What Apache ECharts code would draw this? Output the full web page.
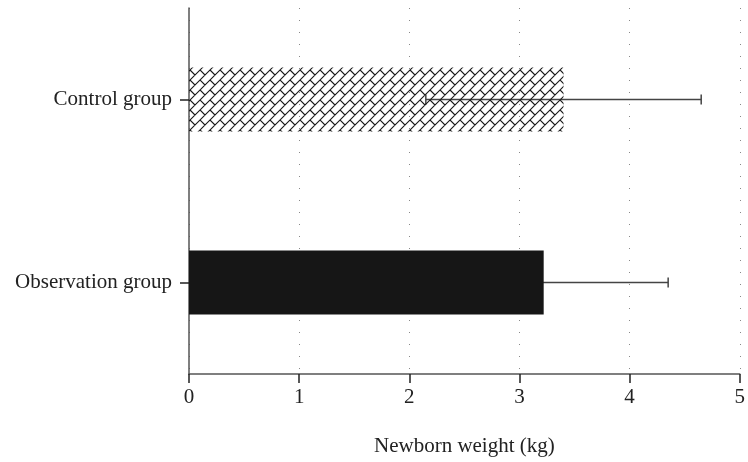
<!DOCTYPE html>
<html>
<head>
<meta charset="utf-8">
<script src="https://cdn.jsdelivr.net/npm/echarts@6/dist/echarts.min.js"></script>
<style>
  html, body { margin: 0; padding: 0; background: #fff; }
  #chart { width: 748px; height: 462px; }
</style>
</head>
<body>
<div id="chart"></div>
<script>
const groups = ["Observation group", "Control group"];
const means = [3.22, 3.4];
const sds = [1.13, 1.25];
const xTicks = [0, 1, 2, 3, 4, 5];

// diagonal brick hatch, transparent so the error line shows through
function makeHatch() {
  const s = 20, h = 10;
  const c = document.createElement("canvas");
  c.width = s;
  c.height = s;
  const ctx = c.getContext("2d");
  ctx.strokeStyle = "#1a1a1a";
  ctx.lineWidth = 1.1;
  ctx.beginPath();
  for (let k = -4; k <= 8; k++) {
    const b = k * h;
    ctx.moveTo(b + 40, -40);
    ctx.lineTo(b - 40, 40);
    const off = (k % 2 === 0) ? 0 : 5;
    for (let m = -6; m <= 6; m++) {
      const t = off + m * 10;
      const x = b / 2 + t, y = b / 2 - t;
      ctx.moveTo(x, y);
      ctx.lineTo(x + h / 2, y + h / 2);
    }
  }
  ctx.stroke();
  return c;
}

const chart = echarts.init(document.getElementById("chart"));
const font = "'Liberation Serif', 'DejaVu Serif', serif";

const option = {
  animation: false,
  grid: { left: 189, right: 4, top: 8, bottom: 88 },
  xAxis: {
    type: "value",
    min: 0,
    max: 5,
    interval: 1,
    name: "Newborn weight (kg)",
    nameLocation: "middle",
    nameGap: 62,
    nameTextStyle: { fontFamily: font, fontSize: 21, color: "#222" },
    axisLine: { show: true, lineStyle: { color: "#555", width: 1.5 } },
    axisTick: { show: true, length: 9, lineStyle: { color: "#222", width: 1.5 } },
    axisLabel: {
      fontFamily: font,
      fontSize: 21,
      color: "#222",
      margin: 13,
      formatter: function (v) { return xTicks.indexOf(v) >= 0 ? String(v) : ""; }
    },
    splitLine: { show: true, lineStyle: { color: "#888", type: [1, 11], width: 1 } }
  },
  yAxis: {
    type: "category",
    data: groups,
    axisLine: { show: true, lineStyle: { color: "#555", width: 1.5 } },
    axisTick: { show: true, alignWithLabel: true, length: 9, lineStyle: { color: "#222", width: 1.5 } },
    axisLabel: { fontFamily: font, fontSize: 21, color: "#222", margin: 17 },
    splitLine: { show: false }
  },
  series: [
    {
      type: "custom",
      z: 1,
      data: means.map(function (m, i) { return [i, m - sds[i], m + sds[i]]; }),
      renderItem: function (params, api) {
        const i = api.value(0);
        const lo = api.coord([api.value(1), i]);
        const hi = api.coord([api.value(2), i]);
        const cap = 5;
        const style = { stroke: "#444", lineWidth: 1.5 };
        return {
          type: "group",
          children: [
            { type: "line", shape: { x1: lo[0], y1: lo[1], x2: hi[0], y2: hi[1] }, style: style },
            { type: "line", shape: { x1: lo[0], y1: lo[1] - cap, x2: lo[0], y2: lo[1] + cap }, style: style },
            { type: "line", shape: { x1: hi[0], y1: hi[1] - cap, x2: hi[0], y2: hi[1] + cap }, style: style }
          ]
        };
      },
      encode: { x: [1, 2], y: 0 }
    },
    {
      type: "bar",
      barWidth: "35%",
      z: 3,
      data: means.map(function (v, i) {
        return {
          value: v,
          itemStyle: i === 1
            ? { color: { image: makeHatch(), repeat: "repeat" } }
            : { color: "#161616" }
        };
      })
    }
  ]
};

chart.setOption(option);
window.addEventListener("resize", function () {
  chart.resize();
});
</script>
</body>
</html>
